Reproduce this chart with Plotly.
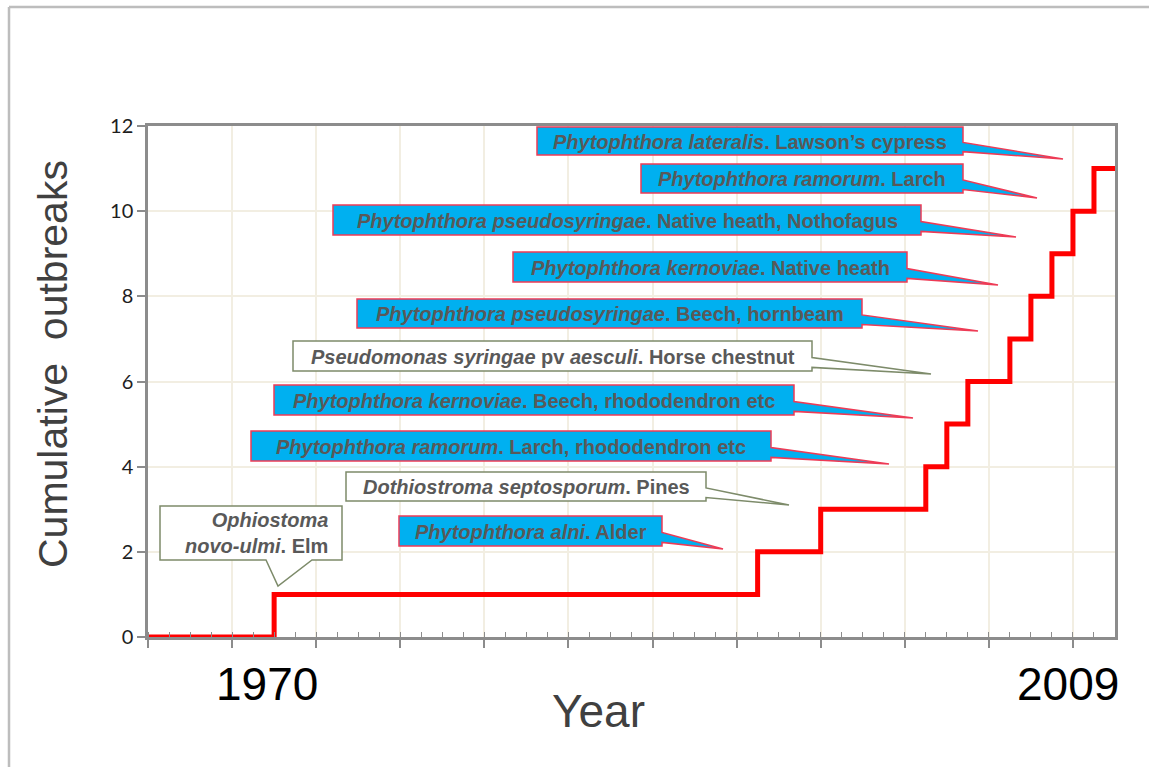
import plotly.graph_objects as go

# ---------------- data ----------------
years = [1970, 1993, 1996, 2001, 2002, 2003, 2005, 2006, 2007, 2008, 2009]
cumulative = [1, 2, 3, 4, 5, 6, 7, 8, 9, 10, 11]
axis_start = [1964]
axis_end = [2010]
start_value = [0]

y_ticks = [0, 2, 4, 6, 8, 10, 12]
year_labels = ["1970", "2009"]

labels = [
    "<i>Ophiostoma</i><br><i>novo-ulmi</i>. Elm",
    "<i>Phytophthora alni</i>. Alder",
    "<i>Dothiostroma septosporum</i>. Pines",
    "<i>Phytophthora ramorum</i>. Larch, rhododendron etc",
    "<i>Phytophthora kernoviae</i>. Beech, rhododendron etc",
    "<i>Pseudomonas syringae</i> pv <i>aesculi</i>. Horse chestnut",
    "<i>Phytophthora pseudosyringae</i>. Beech, hornbeam",
    "<i>Phytophthora kernoviae</i>. Native heath",
    "<i>Phytophthora pseudosyringae</i>. Native heath, Nothofagus",
    "<i>Phytophthora ramorum</i>. Larch",
    "<i>Phytophthora lateralis</i>. Lawson\u2019s cypress",
]

# ---------------- layout geometry (pixels) ----------------
W, H = 1149, 767
L, R, T, B = 148, 1115, 126, 637
X0, X1 = axis_start[0], axis_end[0]
Y0, Y1 = 0, 12


def dx(px):
    return X0 + (px - L) / (R - L) * (X1 - X0)


def dy(py):
    return Y0 + (B - py) / (B - T) * (Y1 - Y0)


def px_(px):
    return (px - L) / (R - L)


def py_(py):
    return (B - py) / (B - T)


callouts = [
    dict(box=(160, 506, 342, 560), tip=(278, 586), base=(266, 312), side="bottom", style="white"),
    dict(box=(399, 516, 662, 546), tip=(723, 549), style="blue"),
    dict(box=(346, 472, 706, 501), tip=(789, 505), style="white"),
    dict(box=(251, 431, 771, 461), tip=(889, 464), style="blue"),
    dict(box=(274, 385, 794, 415), tip=(913, 418), style="blue"),
    dict(box=(293, 341, 812, 371), tip=(931, 374), style="white"),
    dict(box=(357, 299, 862, 328), tip=(978, 331), style="blue"),
    dict(box=(513, 252, 907, 282), tip=(998, 285), style="blue"),
    dict(box=(333, 205, 921, 235), tip=(1016, 237), style="blue"),
    dict(box=(641, 164, 963, 193), tip=(1037, 198), style="blue"),
    dict(box=(537, 127, 963, 155), tip=(1063, 159), style="blue"),
]

BLUE = "#00B0F0"
RED_EDGE = "#EE3B55"
GREY_EDGE = "#7D8B6A"
TEXT = "#595959"
FONT = "Liberation Sans, Arial, sans-serif"

fig = go.Figure()
fig.add_trace(go.Scatter(
    x=axis_start + years + axis_end,
    y=start_value + cumulative + [cumulative[-1]],
    mode="lines",
    line=dict(color="#FF0000", width=5, shape="hv"),
    hoverinfo="skip",
    showlegend=False,
))

shapes = []
annotations = []
for c, text in zip(callouts, labels):
    l, t, r, b = c["box"]
    tx, ty = c["tip"]
    h = b - t
    if c.get("side") == "bottom":
        b0, b1 = c["base"]
        pts = [(l, t), (r, t), (r, b), (b1, b), (tx, ty), (b0, b), (l, b)]
    else:
        pts = [(l, t), (r, t), (r, t + 0.55 * h), (tx, ty), (r, t + 0.88 * h), (r, b), (l, b)]
    path = "M " + " L ".join(f"{dx(x):.4f},{dy(y):.4f}" for x, y in pts) + " Z"
    if c["style"] == "blue":
        fill, edge = BLUE, RED_EDGE
    else:
        fill, edge = "white", GREY_EDGE
    shapes.append(dict(type="path", path=path, xref="x", yref="y",
                       fillcolor=fill, line=dict(color=edge, width=1.5), layer="above"))
    if c.get("side") == "bottom":
        annotations.append(dict(x=dx(r - 12), y=dy((t + b) / 2), xref="x", yref="y",
                                text=f"<b>{text}</b>", showarrow=False, xanchor="right",
                                yanchor="middle", align="right",
                                font=dict(family=FONT, size=20, color=TEXT)))
    else:
        annotations.append(dict(x=dx((l + r) / 2), y=dy((t + b) / 2 + 0.5), xref="x", yref="y",
                                text=f"<b>{text}</b>", showarrow=False, xanchor="center",
                                yanchor="middle",
                                font=dict(family=FONT, size=20, color=TEXT)))

# year labels below the axis
for lab, xp in zip(year_labels, [267, 1068]):
    annotations.append(dict(x=dx(xp), y=py_(684), xref="x", yref="paper", text=lab,
                            showarrow=False, xanchor="center", yanchor="middle",
                            font=dict(family=FONT, size=46, color="#000000")))
annotations.append(dict(x=px_(598), y=py_(711), xref="paper", yref="paper", text="Year",
                        showarrow=False, xanchor="center", yanchor="middle",
                        font=dict(family=FONT, size=46, color="#404040")))
annotations.append(dict(x=px_(53), y=py_(364), xref="paper", yref="paper",
                        text="Cumulative  outbreaks", textangle=-90,
                        showarrow=False, xanchor="center", yanchor="middle",
                        font=dict(family=FONT, size=41, color="#404040")))

# outer frame (left & top)
shapes.append(dict(type="line", xref="paper", yref="paper", x0=px_(9), x1=px_(1160),
                   y0=py_(7), y1=py_(7), line=dict(color="#BDBDBD", width=2.5)))
shapes.append(dict(type="line", xref="paper", yref="paper", x0=px_(9), x1=px_(9),
                   y0=py_(7), y1=py_(780), line=dict(color="#BDBDBD", width=2.5)))

fig.update_layout(
    width=W, height=H, autosize=False,
    margin=dict(l=L, r=W - R, t=T, b=H - B, pad=0),
    paper_bgcolor="white", plot_bgcolor="white",
    shapes=shapes, annotations=annotations,
    showlegend=False,
)
fig.update_xaxes(
    range=[X0, X1], tick0=X0, dtick=4, showticklabels=False,
    ticks="outside", ticklen=8, tickwidth=1.5, tickcolor="#8C8C8C",
    minor=dict(dtick=1, tick0=X0, ticks="inside", ticklen=5, tickwidth=1,
               tickcolor="#8C8C8C", showgrid=False),
    showgrid=True, gridcolor="#F2EEE2", gridwidth=1.5,
    showline=True, linecolor="#8C8C8C", linewidth=2.5, mirror=True, zeroline=False,
)
fig.update_yaxes(
    range=[Y0, Y1], tickvals=y_ticks, ticktext=[str(v) for v in y_ticks],
    ticks="outside", ticklen=8, tickwidth=1.5, tickcolor="#8C8C8C",
    tickfont=dict(family="Lato, Carlito, sans-serif", size=20, color="#1E1E1E"),
    showgrid=True, gridcolor="#F2EEE2", gridwidth=1.5,
    showline=True, linecolor="#8C8C8C", linewidth=2.5, mirror=True, zeroline=False,
)

fig.write_html("out.html", config={"displayModeBar": False},
               post_script="document.body.style.margin='0';document.body.style.overflow='hidden';")
